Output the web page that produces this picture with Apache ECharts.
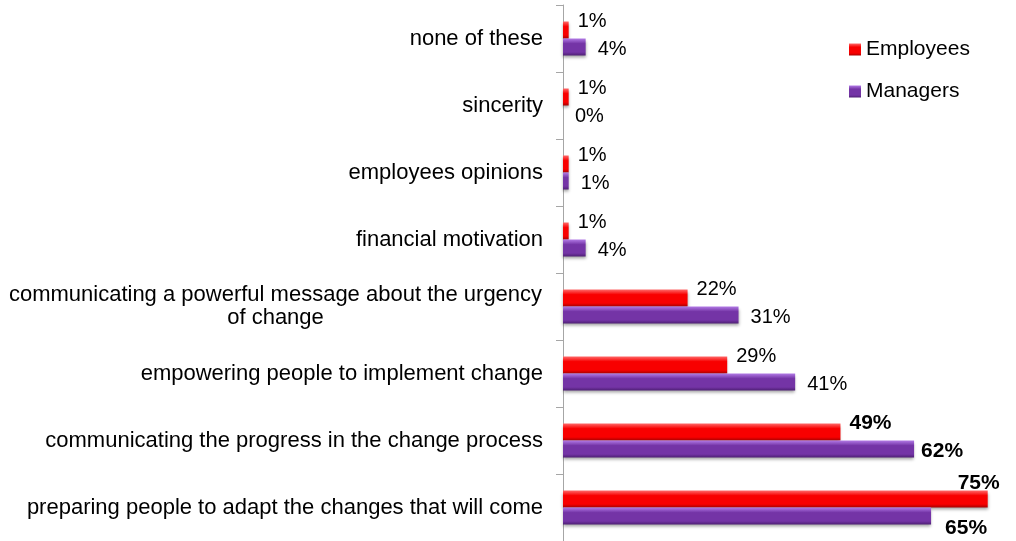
<!DOCTYPE html>
<html>
<head>
<meta charset="utf-8">
<script src="https://cdn.jsdelivr.net/npm/echarts@6/dist/echarts.min.js"></script>
<style>
  html, body { margin: 0; padding: 0; background: #fff; }
  #chart { width: 1016px; height: 541px; }
</style>
</head>
<body>
<div id="chart"></div>
<script>
// categories listed bottom -> top (ECharts category y axis starts at the bottom)
const categories = [
  'preparing people to adapt the changes that will come',
  'communicating the progress in the change process',
  'empowering people to implement change',
  'communicating a powerful message about the urgency\nof change',
  'financial motivation',
  'employees opinions',
  'sincerity',
  'none of these'
]
const employees = [75, 49, 29, 22, 1, 1, 1, 1]
const managers = [65, 62, 41, 31, 4, 1, 0, 4]

const chart = echarts.init(document.getElementById('chart'))

const font = 'Arial, "Liberation Sans", sans-serif'

function barColor(light, main, dark) {
  return new echarts.graphic.LinearGradient(0, 0, 0, 1, [
    { offset: 0, color: light },
    { offset: 0.3, color: main },
    { offset: 0.8, color: main },
    { offset: 1, color: dark }
  ])
}

// label style: big values drawn bold, the top value tucked above its bar
function makeData(values, isEmp) {
  return values.map(function (v, i) {
    const bold = v >= 45
    const label = { fontWeight: bold ? 'bold' : 'normal', fontSize: bold ? 21 : 20 }
    if (i === 0) {
      label.offset = isEmp ? [-35, -16] : [9, 12]
    } else if (bold && !isEmp) {
      label.offset = [2, 2]
    }
    return { value: v, label: label }
  })
}

const option = {
  animation: false,
  legend: {
    data: ['Employees', 'Managers'],
    orient: 'vertical',
    left: 844,
    top: 34,
    itemWidth: 12,
    itemHeight: 12,
    itemGap: 21,
    icon: 'rect',
    textStyle: { fontFamily: font, fontSize: 21, color: '#000' }
  },
  grid: {
    left: 563,
    right: 0,
    top: 5,
    bottom: 0
  },
  xAxis: {
    type: 'value',
    min: 0,
    max: 80,
    show: false
  },
  yAxis: {
    type: 'category',
    data: categories,
    axisLine: { show: true, lineStyle: { color: '#a6a6a6', width: 1 } },
    axisTick: { show: true, length: 7, lineStyle: { color: '#a6a6a6' } },
    axisLabel: {
      margin: 20,
      fontFamily: font,
      fontSize: 22,
      color: '#000',
      lineHeight: 23,
      formatter: function (val) {
        if (val.indexOf('\n') >= 0) {
          return val.split('\n').map(function (s) { return '{c|' + s + '}' }).join('\n')
        }
        return val
      },
      rich: {
        c: { width: 535, align: 'center', fontSize: 22, fontFamily: font, color: '#000', lineHeight: 23 }
      }
    }
  },
  series: [
    {
      name: 'Employees',
      type: 'bar',
      barWidth: 17,
      barGap: '0%',
      data: makeData(employees, true),
      itemStyle: {
        color: barColor('#ff6a6a', '#f80000', '#a80000'),
        shadowColor: 'rgba(0,0,0,0.35)',
        shadowBlur: 3,
        shadowOffsetY: 2
      },
      label: {
        show: true,
        position: 'right',
        offset: [4, -9],
        formatter: '{c}%',
        fontFamily: font,
        fontSize: 20,
        color: '#000'
      }
    },
    {
      name: 'Managers',
      type: 'bar',
      barWidth: 17,
      barGap: '0%',
      data: makeData(managers, false),
      itemStyle: {
        color: barColor('#b27ae6', '#7434a6', '#4e1f74'),
        shadowColor: 'rgba(0,0,0,0.35)',
        shadowBlur: 3,
        shadowOffsetY: 2
      },
      label: {
        show: true,
        position: 'right',
        offset: [7, 2],
        formatter: '{c}%',
        fontFamily: font,
        fontSize: 20,
        color: '#000'
      }
    }
  ]
}

chart.setOption(option)
window.addEventListener('resize', function () {
  chart.resize()
})
</script>
</body>
</html>
